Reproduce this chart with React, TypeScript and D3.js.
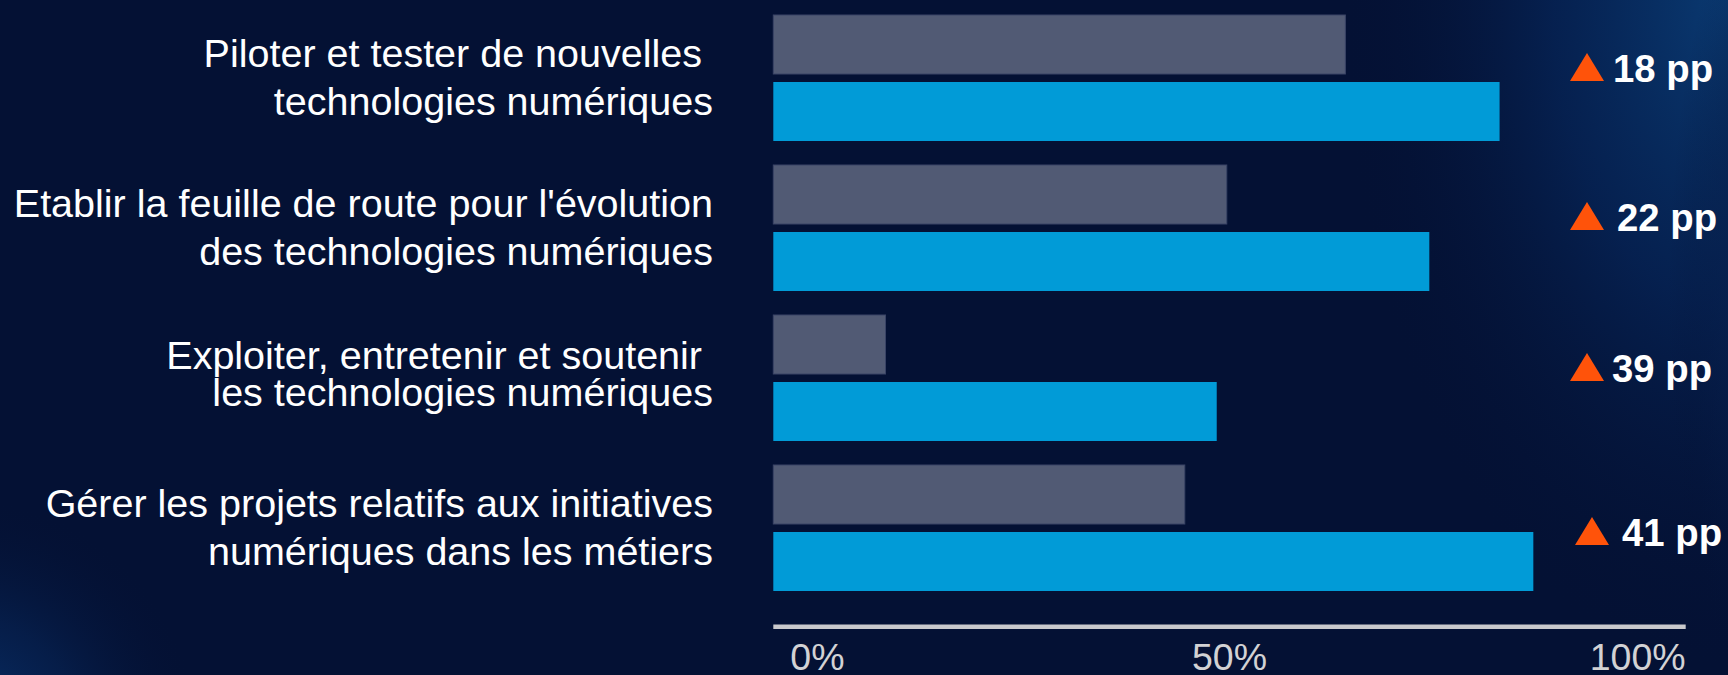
import React from "react";
import * as d3 from "d3";

// ---- data ----
const categories: string[][] = [
  ["Piloter et tester de nouvelles ", "technologies numériques"],
  ["Etablir la feuille de route pour l'évolution", "des technologies numériques"],
  ["Exploiter, entretenir et soutenir ", "les technologies numériques"],
  ["Gérer les projets relatifs aux initiatives", "numériques dans les métiers"],
];
const beforeValues = [62.7, 49.7, 12.3, 45.1];
const afterValues = [79.6, 71.9, 48.6, 83.3];
const deltaLabels = ["18 pp", "22 pp", "39 pp", "41 pp"];
const tickValues = [0, 50, 100];
const tickLabels = ["0%", "50%", "100%"];
const seriesKeys = ["before", "after"];

// ---- layout constants ----
const W = 1728;
const H = 675;
const FONT = "'Liberation Sans', Arial, Helvetica, sans-serif";
const lineOffsets = [
  [-11, 37],
  [-11, 37],
  [-9, 28],
  [-11, 37],
];
const deltaTriX = [1570, 1570, 1570, 1575];
const deltaTextX = [1613, 1617, 1612, 1622];
const deltaBaseDy = [3, 2, 3, 17];

export default function App() {
  const ids = categories.map((_, i) => String(i));
  const x = d3.scaleLinear().domain([0, 100]).range([773.3, 1685.7]);
  const y = d3
    .scaleBand<string>()
    .domain(ids)
    .range([3, 603])
    .paddingInner(0.16)
    .paddingOuter(0.08);
  const ySub = d3
    .scaleBand<string>()
    .domain(seriesKeys)
    .range([0, y.bandwidth()])
    .paddingInner(8 / 67);

  const triPath = (cx: number, baseY: number) => {
    const p = d3.path();
    p.moveTo(cx, baseY);
    p.lineTo(cx + 34, baseY);
    p.lineTo(cx + 17, baseY - 28);
    p.closePath();
    return p.toString();
  };

  return (
    <svg
      width={W}
      height={H}
      viewBox={`0 0 ${W} ${H}`}
      style={{ position: "fixed", left: 0, top: 0, display: "block" }}
    >
      <defs>
        <radialGradient id="glowTR" cx={W} cy={0} r={520} gradientUnits="userSpaceOnUse"
          gradientTransform={`translate(${W},0) scale(0.75,1.3) translate(${-W},0)`}>
          <stop offset="0" stopColor="#0a3a72" />
          <stop offset="0.45" stopColor="#062456" stopOpacity="0.8" />
          <stop offset="1" stopColor="#041134" stopOpacity="0" />
        </radialGradient>
        <radialGradient id="glowR" cx={W + 60} cy={H * 0.45} r={200} gradientUnits="userSpaceOnUse"
          gradientTransform={`translate(${W + 60},${H * 0.45}) scale(0.6,2.2) translate(${-(W + 60)},${-H * 0.45})`}>
          <stop offset="0" stopColor="#0a2c62" stopOpacity="0.9" />
          <stop offset="1" stopColor="#041134" stopOpacity="0" />
        </radialGradient>
        <radialGradient id="glowBL" cx={-40} cy={H + 60} r={240} gradientUnits="userSpaceOnUse">
          <stop offset="0" stopColor="#0a3470" />
          <stop offset="0.5" stopColor="#072556" stopOpacity="0.6" />
          <stop offset="1" stopColor="#041134" stopOpacity="0" />
        </radialGradient>
      </defs>
      <rect x={0} y={0} width={W} height={H} fill="#041134" />
      <rect x={0} y={0} width={W} height={H} fill="url(#glowTR)" />
      <rect x={0} y={0} width={W} height={H} fill="url(#glowR)" />
      <rect x={0} y={0} width={W} height={H} fill="url(#glowBL)" />

      {/* bars */}
      {ids.map((id, i) => {
        const y0 = y(id) as number;
        return (
          <g key={id}>
            <rect
              x={x(0)}
              y={y0 + (ySub("before") as number)}
              width={x(beforeValues[i]) - x(0)}
              height={ySub.bandwidth()}
              fill="#515a74"
              stroke="#3a4466"
              strokeWidth={1}
            />
            <rect
              x={x(0)}
              y={y0 + (ySub("after") as number)}
              width={x(afterValues[i]) - x(0)}
              height={ySub.bandwidth()}
              fill="#019bd7"
            />
          </g>
        );
      })}

      {/* category labels */}
      {ids.map((id, i) => {
        const cy = (y(id) as number) + y.bandwidth() / 2;
        return (
          <text
            key={"c" + id}
            textAnchor="end"
            fill="#ffffff"
            fontFamily={FONT}
            fontSize={39.5}
            style={{ whiteSpace: "pre" }}
          >
            {categories[i].map((line, j) => (
              <tspan key={j} x={713} y={cy + lineOffsets[i][j]}>
                {line}
              </tspan>
            ))}
          </text>
        );
      })}

      {/* delta labels */}
      {ids.map((id, i) => {
        const cy = (y(id) as number) + y.bandwidth() / 2;
        const base = cy + deltaBaseDy[i];
        return (
          <g key={"d" + id}>
            <path d={triPath(deltaTriX[i], base)} fill="#ff530a" />
            <text
              x={deltaTextX[i]}
              y={base + 1}
              fill="#ffffff"
              fontFamily={FONT}
              fontWeight="bold"
              fontSize={38.3}
            >
              {deltaLabels[i]}
            </text>
          </g>
        );
      })}

      {/* axis */}
      <line x1={x(0)} x2={x(100)} y1={626.7} y2={626.7} stroke="#c9c9cc" strokeWidth={4.5} />
      {tickValues.map((t, i) => (
        <text
          key={"t" + t}
          x={i === 0 ? x(t) + 17 : x(t)}
          y={670}
          textAnchor={i === 0 ? "start" : i === tickValues.length - 1 ? "end" : "middle"}
          fill="#d2d2d4"
          fontFamily={FONT}
          fontSize={37.5}
        >
          {tickLabels[i]}
        </text>
      ))}
    </svg>
  );
}
